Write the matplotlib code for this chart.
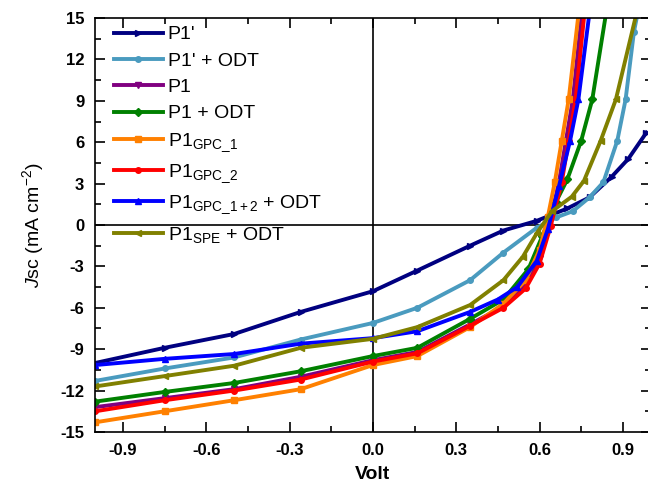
import matplotlib
matplotlib.use("Agg")
import matplotlib.pyplot as plt
from matplotlib.ticker import MultipleLocator

plt.rcParams['font.family'] = ['Liberation Sans', 'DejaVu Sans']
plt.rcParams['mathtext.fontset'] = 'custom'
plt.rcParams['mathtext.rm'] = 'Liberation Sans'
plt.rcParams['mathtext.it'] = 'Liberation Sans:italic'

# --- data (V, mA/cm2) ---
v_p1p = [-1.0, -0.75, -0.5, -0.26, 0.0, 0.16, 0.35, 0.47, 0.59, 0.70, 0.78, 0.86, 0.92, 0.985]
j_p1p = [-10.0, -8.9, -7.9, -6.3, -4.8, -3.3, -1.5, -0.4, 0.3, 1.2, 2.0, 3.5, 4.8, 6.7]

v_p1p_odt = [-1.0, -0.75, -0.5, -0.26, 0.0, 0.16, 0.35, 0.47, 0.59, 0.66, 0.72, 0.78, 0.83, 0.88, 0.91, 0.94, 0.955]
j_p1p_odt = [-11.3, -10.4, -9.6, -8.3, -7.1, -6.0, -4.0, -2.0, -0.2, 0.55, 1.0, 2.0, 3.1, 6.1, 9.1, 14.0, 15.5]

v_p1 = [-1.0, -0.75, -0.5, -0.26, 0.0, 0.16, 0.35, 0.47, 0.55, 0.60, 0.635, 0.67, 0.695, 0.72, 0.753]
j_p1 = [-13.2, -12.55, -11.9, -11.0, -9.8, -9.2, -7.2, -5.9, -4.3, -2.4, 0.0, 3.1, 6.1, 9.1, 15.4]

v_p1_odt = [-1.0, -0.75, -0.5, -0.26, 0.0, 0.16, 0.35, 0.47, 0.56, 0.61, 0.66, 0.70, 0.75, 0.79, 0.84]
j_p1_odt = [-12.8, -12.1, -11.45, -10.6, -9.5, -8.9, -6.8, -5.4, -3.2, -0.8, 1.7, 3.3, 6.1, 9.1, 15.4]

v_gpc1 = [-1.0, -0.75, -0.5, -0.26, 0.0, 0.16, 0.35, 0.47, 0.55, 0.60, 0.63, 0.655, 0.68, 0.705, 0.741]
j_gpc1 = [-14.3, -13.5, -12.7, -11.9, -10.15, -9.5, -7.4, -5.7, -4.0, -1.8, 0.6, 3.1, 6.1, 9.1, 15.4]

v_gpc2 = [-1.0, -0.75, -0.5, -0.26, 0.0, 0.16, 0.35, 0.47, 0.55, 0.60, 0.64, 0.68, 0.705, 0.73, 0.762]
j_gpc2 = [-13.5, -12.7, -12.0, -11.2, -9.9, -9.3, -7.3, -6.0, -4.6, -2.8, -0.1, 3.1, 6.1, 9.1, 15.4]

v_gpc12 = [-1.0, -0.75, -0.5, -0.26, 0.0, 0.16, 0.35, 0.45, 0.52, 0.59, 0.63, 0.67, 0.71, 0.74, 0.78]
j_gpc12 = [-10.15, -9.7, -9.35, -8.6, -8.2, -7.7, -6.3, -5.4, -4.5, -2.6, -0.3, 2.8, 6.1, 9.1, 15.4]

v_spe = [-1.0, -0.75, -0.5, -0.26, 0.0, 0.16, 0.35, 0.47, 0.54, 0.59, 0.645, 0.716, 0.76, 0.82, 0.875, 0.95]
j_spe = [-11.7, -10.95, -10.2, -8.9, -8.25, -7.4, -5.8, -4.0, -2.3, -0.6, 1.0, 2.05, 3.2, 6.1, 9.1, 15.4]

labels = ["P1'", "P1' + ODT", "P1", "P1 + ODT",
          r"P1$_{\mathregular{GPC\_1}}$", r"P1$_{\mathregular{GPC\_2}}$",
          r"P1$_{\mathregular{GPC\_1+2}}$ + ODT", r"P1$_{\mathregular{SPE}}$ + ODT"]
colors = ["#000080", "#4a9bbf", "#800080", "#008000", "#ff8000", "#ff0000", "#0000ff", "#808000"]
markers = [">", "o", "v", "D", "s", "o", "^", "<"]

series = [(v_p1p, j_p1p), (v_p1p_odt, j_p1p_odt), (v_p1, j_p1), (v_p1_odt, j_p1_odt),
          (v_gpc1, j_gpc1), (v_gpc2, j_gpc2), (v_gpc12, j_gpc12), (v_spe, j_spe)]

fig = plt.figure(figsize=(6.48, 4.87), dpi=100)
ax = fig.add_axes([0.147, 0.113, 0.857, 0.850])

for (v, j), lab, c, m in zip(series, labels, colors, markers):
    ax.plot(v, j, color=c, lw=2.8, marker=m, ms=4, mec=c, mfc=c, label=lab)

ax.axhline(0, color="black", lw=1.2, zorder=0)
ax.axvline(0, color="black", lw=1.2, zorder=0)

ax.set_xlim(-1.0, 1.0)
ax.set_ylim(-15, 15)
ax.xaxis.set_minor_locator(MultipleLocator(0.15))
ax.yaxis.set_minor_locator(MultipleLocator(1.5))
ax.set_xticks([-0.9, -0.6, -0.3, 0.0, 0.3, 0.6, 0.9])
ax.set_xticklabels(["-0.9", "-0.6", "-0.3", "0.0", "0.3", "0.6", "0.9"])
ax.set_yticks(range(-15, 16, 3))
ax.set_yticklabels([str(t) for t in range(-15, 16, 3)])
ax.tick_params(which="both", direction="in", top=True, right=True, width=1.2)
ax.tick_params(which="major", length=7, labelsize=12, pad=8)
ax.tick_params(which="minor", length=4)
for lbl in ax.get_xticklabels() + ax.get_yticklabels():
    lbl.set_fontweight("bold")
for s in ax.spines.values():
    s.set_linewidth(1.2)

ax.set_xlabel("Volt", fontsize=14, fontweight="bold", labelpad=6)
ax.set_ylabel(r"$\mathit{J}$sc (mA cm$^{-2}$)", fontsize=14, labelpad=10)

ax.legend(loc="upper left", frameon=False, fontsize=14, handlelength=2.5,
          handletextpad=0.25, labelspacing=0.45, numpoints=1,
          borderaxespad=0.0, bbox_to_anchor=(0.02, 1.0))

fig.savefig("out.png", dpi=100)
